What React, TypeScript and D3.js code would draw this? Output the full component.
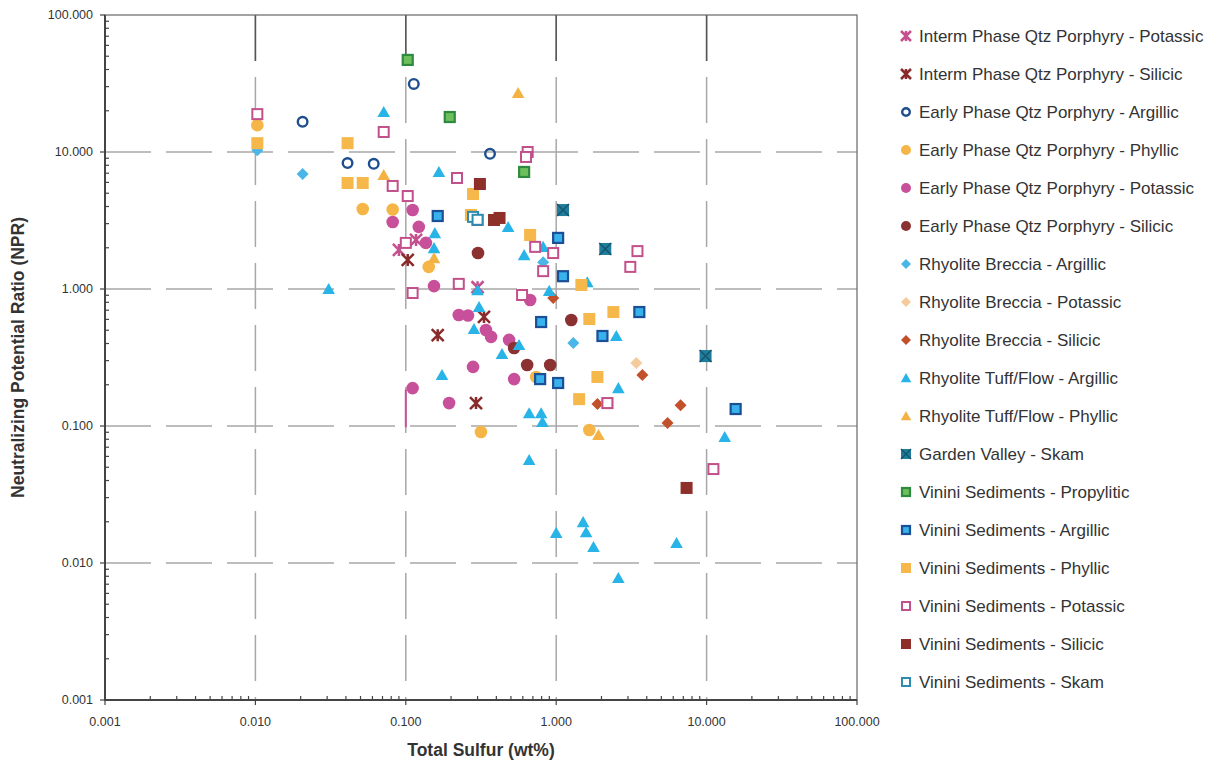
import React, { useEffect, useRef } from 'react';
import * as d3 from 'd3';

// decade ticks for both log axes
const decades = [0.001, 0.01, 0.1, 1, 10, 100];
const tickLabels = ['0.001', '0.010', '0.100', '1.000', '10.000', '100.000'];

// [total sulfur wt%, NPR]
const intermPotassic = [[0.09, 1.93], [0.117, 2.28], [0.3, 1.03]];
const intermSilicic = [[0.103, 1.63], [0.163, 0.46], [0.331, 0.625], [0.293, 0.147]];
const earlyArgillic = [[0.0206, 16.6], [0.041, 8.3], [0.0612, 8.2], [0.113, 31.4], [0.363, 9.7]];
const earlyPhyllic = [[0.0103, 15.7], [0.0517, 3.84], [0.0818, 3.8], [0.142, 1.45], [0.316, 0.0904], [0.736, 0.228], [1.66, 0.0935]];
const earlyPotassic = [
    [0.0818, 3.08], [0.111, 3.77], [0.122, 2.84], [0.136, 2.17], [0.154, 1.05], [0.225, 0.646], [0.259, 0.64],
    [0.341, 0.502], [0.369, 0.447], [0.486, 0.425], [0.671, 0.832], [0.111, 0.189], [0.194, 0.147], [0.28, 0.27], [0.525, 0.22],
];
const earlySilicic = [[0.302, 1.83], [0.641, 0.279], [0.912, 0.279], [1.26, 0.594], [0.525, 0.371]];
const brecciaArgillic = [[0.0103, 10.3], [0.0206, 6.91], [0.819, 1.57], [1.3, 0.404]];
const brecciaPotassic = [[3.41, 0.288]];
const brecciaSilicic = [[0.955, 0.859], [3.74, 0.236], [1.88, 0.145], [6.71, 0.142], [5.5, 0.105]];
const tuffArgillic = [
    [0.0713, 19.6], [0.0307, 1.0], [0.166, 7.15], [0.479, 2.84], [0.156, 2.56], [0.154, 1.99], [0.3, 0.98],
    [0.307, 0.739], [0.284, 0.511], [0.436, 0.336], [0.566, 0.39], [0.174, 0.236], [0.661, 0.124], [0.794, 0.124],
    [0.81, 0.107], [0.661, 0.0565], [1.0, 0.0166], [1.51, 0.0199], [1.58, 0.0168], [1.77, 0.0131], [2.59, 0.00778],
    [6.31, 0.014], [13.2, 0.0832], [2.59, 0.189], [2.51, 0.454], [1.61, 1.12], [0.898, 0.97], [0.612, 1.77], [0.819, 2.03],
];
const tuffPhyllic = [[0.558, 27.0], [0.0713, 6.8], [0.154, 1.68], [1.91, 0.086]];
const gardenSkarn = [[1.11, 3.77], [2.12, 1.96], [9.84, 0.324]];
const vininiPropylitic = [[0.103, 47], [0.196, 18.0], [0.612, 7.15]];
const vininiArgillic = [[0.163, 3.41], [1.03, 2.36], [0.794, 0.574], [1.11, 1.24], [2.03, 0.454], [3.57, 0.679], [0.782, 0.22], [1.03, 0.206], [15.6, 0.133]];
const vininiPhyllic = [
    [0.0103, 11.6], [0.041, 11.6], [0.041, 5.94], [0.0517, 5.94], [0.28, 4.94], [0.271, 3.47], [0.671, 2.48],
    [1.47, 1.07], [1.66, 0.604], [2.4, 0.679], [1.88, 0.228], [1.42, 0.157], [2.19, 0.147],
];
const vininiPotassic = [
    [0.0103, 18.9], [0.0713, 14.0], [0.0818, 5.65], [0.103, 4.77], [0.219, 6.46], [0.646, 10.0], [0.63, 9.2],
    [0.3, 3.19], [0.1, 2.17], [0.111, 0.935], [0.225, 1.09], [0.593, 0.904], [0.725, 2.03], [0.955, 1.83],
    [0.819, 1.35], [3.47, 1.89], [3.11, 1.45], [11.1, 0.0485], [2.19, 0.147],
];
const vininiSilicic = [[0.311, 5.84], [0.386, 3.19], [0.42, 3.3], [7.36, 0.0353]];
const vininiSkarn = [[0.28, 3.36], [0.3, 3.2]];

// stray pink drop line under one potassic point: x, y from, y to
const dropLine = [0.1, 0.185, 0.098];

const seriesNames = [
    'Interm Phase Qtz Porphyry - Potassic',
    'Interm Phase Qtz Porphyry - Silicic',
    'Early Phase Qtz Porphyry - Argillic',
    'Early Phase Qtz Porphyry - Phyllic',
    'Early Phase Qtz Porphyry - Potassic',
    'Early Phase Qtz Porphyry - Silicic',
    'Rhyolite Breccia - Argillic',
    'Rhyolite Breccia - Potassic',
    'Rhyolite Breccia - Silicic',
    'Rhyolite Tuff/Flow - Argillic',
    'Rhyolite Tuff/Flow - Phyllic',
    'Garden Valley - Skam',
    'Vinini Sediments - Propylitic',
    'Vinini Sediments - Argillic',
    'Vinini Sediments - Phyllic',
    'Vinini Sediments - Potassic',
    'Vinini Sediments - Silicic',
    'Vinini Sediments - Skam',
];
const seriesData = [
    intermPotassic, intermSilicic, earlyArgillic, earlyPhyllic, earlyPotassic, earlySilicic,
    brecciaArgillic, brecciaPotassic, brecciaSilicic, tuffArgillic, tuffPhyllic, gardenSkarn,
    vininiPropylitic, vininiArgillic, vininiPhyllic, vininiPotassic, vininiSilicic, vininiSkarn,
];
// marker kind, main colour, second colour (border / inner)
const seriesStyle = [
    ['star', '#c4508e'],
    ['star', '#8a2b2b'],
    ['openCircle', '#1f4e8e'],
    ['circle', '#f6b647'],
    ['circle', '#c8509a'],
    ['circle', '#8b3131'],
    ['diamond', '#4ab6e8'],
    ['diamond', '#f5cb9c'],
    ['diamond', '#c2512b'],
    ['triangle', '#29b4e7'],
    ['triangle', '#f5b244'],
    ['xSquare', '#1f7d9c', '#16566e'],
    ['borderSquare', '#2e8a3e', '#6dbf5c'],
    ['borderSquare', '#1b4f96', '#37b2ec'],
    ['square', '#f6b84b'],
    ['openSquare', '#c2508a'],
    ['square', '#8e2f2a'],
    ['openSquare', '#2d8bb0'],
];

function drawMarker(g, kind, c1, c2, s) {
    if (kind === 'star') {
        g.append('path')
            .attr('d', `M${-s},${-s}L${s},${s}M${-s},${s}L${s},${-s}M0,${-s}L0,${s}`)
            .attr('stroke', c1).attr('stroke-width', 2.5).attr('fill', 'none');
    } else if (kind === 'openCircle') {
        g.append('circle').attr('r', s - 1.2)
            .attr('fill', 'none').attr('stroke', c1).attr('stroke-width', 2.4);
    } else if (kind === 'circle') {
        g.append('circle').attr('r', s).attr('fill', c1);
    } else if (kind === 'diamond') {
        g.append('path')
            .attr('d', `M0,${-s}L${s},0L0,${s}L${-s},0Z`)
            .attr('fill', c1);
    } else if (kind === 'triangle') {
        g.append('path')
            .attr('d', `M0,${-s * 1.0}L${s * 1.05},${s * 0.85}L${-s * 1.05},${s * 0.85}Z`)
            .attr('fill', c1);
    } else if (kind === 'square') {
        g.append('rect').attr('x', -s).attr('y', -s).attr('width', 2 * s).attr('height', 2 * s)
            .attr('fill', c1);
    } else if (kind === 'openSquare') {
        g.append('rect').attr('x', -s + 1).attr('y', -s + 1).attr('width', 2 * s - 2).attr('height', 2 * s - 2)
            .attr('fill', 'white').attr('stroke', c1).attr('stroke-width', 2);
    } else if (kind === 'borderSquare') {
        g.append('rect').attr('x', -s + 1).attr('y', -s + 1).attr('width', 2 * s - 2).attr('height', 2 * s - 2)
            .attr('fill', c2).attr('stroke', c1).attr('stroke-width', 2.2);
    } else if (kind === 'xSquare') {
        g.append('rect').attr('x', -s).attr('y', -s).attr('width', 2 * s).attr('height', 2 * s)
            .attr('fill', c1);
        g.append('path')
            .attr('d', `M${-s},${-s}L${s},${s}M${-s},${s}L${s},${-s}`)
            .attr('stroke', c2).attr('stroke-width', 1.5);
    }
}

export default function App() {
    const ref = useRef(null);

    useEffect(() => {
        const svg = d3.select(ref.current);
        svg.selectAll('*').remove();

        const left = 105, right = 857, top = 15, bottom = 700;
        const font = 'Liberation Sans, Arial, sans-serif';

        const x = d3.scaleLog().domain([0.001, 100]).range([left, right]);
        const y = d3.scaleLog().domain([0.001, 100]).range([bottom, top]);

        // dashed decade grid (top dash of the verticals prints dark)
        const grid = svg.append('g');
        decades.slice(1, -1).forEach((d) => {
            grid.append('line')
                .attr('x1', x(d)).attr('x2', x(d)).attr('y1', top).attr('y2', bottom)
                .attr('stroke', '#a8a8a8').attr('stroke-width', 1.5).attr('stroke-dasharray', '46,16');
            grid.append('line')
                .attr('x1', x(d)).attr('x2', x(d)).attr('y1', top).attr('y2', top + 46)
                .attr('stroke', '#555').attr('stroke-width', 1.5);
            grid.append('line')
                .attr('x1', left).attr('x2', right).attr('y1', y(d)).attr('y2', y(d))
                .attr('stroke', '#a8a8a8').attr('stroke-width', 1.5).attr('stroke-dasharray', '46,15');
        });

        // frame
        svg.append('rect')
            .attr('x', left).attr('y', top).attr('width', right - left).attr('height', bottom - top)
            .attr('fill', 'none').attr('stroke', '#666').attr('stroke-width', 1.2);
        svg.append('path')
            .attr('d', `M${left},${top}V${bottom}H${right}`)
            .attr('fill', 'none').attr('stroke', '#444').attr('stroke-width', 2);

        // minor ticks
        const minor = [];
        decades.slice(0, -1).forEach((d) => {
            for (let k = 2; k <= 9; k++) minor.push(d * k);
        });
        const ticks = svg.append('g').attr('stroke', '#444').attr('stroke-width', 1.2);
        minor.forEach((m) => {
            ticks.append('line').attr('x1', x(m)).attr('x2', x(m)).attr('y1', bottom).attr('y2', bottom - 4);
            ticks.append('line').attr('x1', left).attr('x2', left + 4).attr('y1', y(m)).attr('y2', y(m));
        });
        decades.forEach((d) => {
            ticks.append('line').attr('x1', x(d)).attr('x2', x(d)).attr('y1', bottom).attr('y2', bottom + 5);
            ticks.append('line').attr('x1', left - 5).attr('x2', left).attr('y1', y(d)).attr('y2', y(d));
        });

        // tick labels
        decades.forEach((d, i) => {
            svg.append('text')
                .attr('x', x(d)).attr('y', bottom + 26)
                .attr('text-anchor', 'middle')
                .attr('font-family', font).attr('font-size', 12.5).attr('fill', '#333')
                .text(tickLabels[i]);
            svg.append('text')
                .attr('x', left - 12).attr('y', y(d) + 4)
                .attr('text-anchor', 'end')
                .attr('font-family', font).attr('font-size', 12.5).attr('fill', '#333')
                .text(tickLabels[i]);
        });

        // axis titles
        svg.append('text')
            .attr('x', 481).attr('y', 756)
            .attr('text-anchor', 'middle')
            .attr('font-family', font).attr('font-size', 17.5).attr('font-weight', 'bold').attr('fill', '#333')
            .text('Total Sulfur (wt%)');
        svg.append('text')
            .attr('transform', `translate(24,${(top + bottom) / 2}) rotate(-90)`)
            .attr('text-anchor', 'middle')
            .attr('font-family', font).attr('font-size', 17.5).attr('font-weight', 'bold').attr('fill', '#333')
            .text('Neutralizing Potential Ratio (NPR)');

        // stray drop line
        svg.append('line')
            .attr('x1', x(dropLine[0])).attr('x2', x(dropLine[0]))
            .attr('y1', y(dropLine[1])).attr('y2', y(dropLine[2]))
            .attr('stroke', '#c8509a').attr('stroke-width', 2);

        // points, series by series
        const chart = svg.append('g');
        seriesData.forEach((pts, i) => {
            const [kind, c1, c2] = seriesStyle[i];
            pts.forEach((p) => {
                const g = chart.append('g').attr('transform', `translate(${x(p[0])},${y(p[1])})`);
                drawMarker(g, kind, c1, c2, kind === 'circle' ? 6.3 : 6);
            });
        });

        // legend
        const legend = svg.append('g');
        seriesNames.forEach((name, i) => {
            const ly = 36 + i * 38;
            const [kind, c1, c2] = seriesStyle[i];
            const g = legend.append('g').attr('transform', `translate(906,${ly})`);
            drawMarker(g, kind, c1, c2, 5);
            legend.append('text')
                .attr('x', 919).attr('y', ly + 6)
                .attr('font-family', font).attr('font-size', 17).attr('fill', '#333')
                .text(name);
        });
    }, []);

    return (
        <svg ref={ref} width={1216} height={766}
            style={{ position: 'absolute', left: 0, top: 0, background: 'white' }} />
    );
}
